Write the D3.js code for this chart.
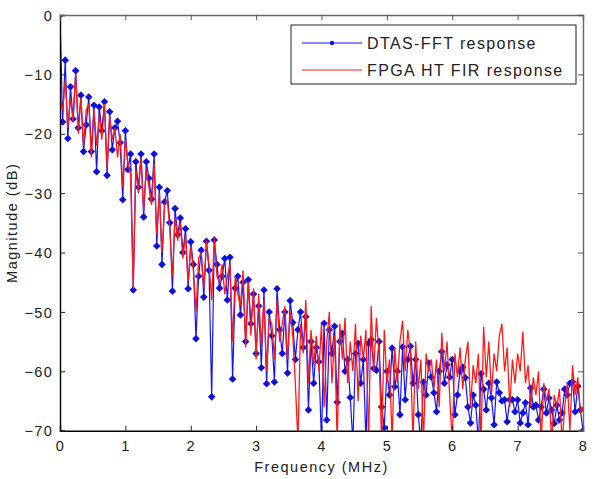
<!DOCTYPE html>
<html><head><meta charset="utf-8">
<script src="https://cdn.jsdelivr.net/npm/d3@7"></script>
<style>body{margin:0;background:#fff}svg{display:block}text{font-family:"Liberation Sans",Arial,sans-serif}</style>
</head><body>
<script>
const freqStep = 0.04;
const xTicks = [0,1,2,3,4,5,6,7,8];
const yTicks = [0,-10,-20,-30,-40,-50,-60,-70];
const seriesNames = ["DTAS-FFT response","FPGA HT FIR response"];
const dtasFFT = [
0,-18,-7.6,-20.8,-12.1,-17.5,-9.4,-19,-13.5,-23,
-18.5,-13.8,-23,-15.2,-26.4,-15.5,-19.5,-14.6,-27,-16.3,
-22.7,-19,-17.9,-21.5,-31.1,-19.5,-26,-23.4,-46.3,-24.7,
-29,-23.4,-34,-24.7,-27.5,-31,-23.4,-38.9,-29,-42,
-31.5,-29.6,-35,-46.5,-32.6,-37,-34.2,-40,-36,-46.1,
-38.2,-42,-54.5,-44,-39.6,-47.5,-38.1,-43,-64.3,-37.9,
-42,-46,-44,-41,-48,-40.8,-61.3,-46,-44,-50.5,
-45,-55,-44.6,-52,-47,-57,-49,-59.4,-46.3,-62.1,
-50,-54,-61.8,-46.1,-53,-57,-50,-60.3,-48.1,-51.8,
-58,-53,-50,-56,-50.8,-66.5,-55,-62,-56,-58.4,
-72,-51.9,-68.2,-53,-57,-52.4,-65.2,-55,-53.6,-60,
-58,-64.4,-72,-57,-55.3,-62,-58,-72,-55.3,-54.7,
-59.5,-59.8,-55,-66,-69.5,-60,-64,-56.1,-62.6,-60,
-67.3,-55.9,-64.8,-58,-55.8,-62,-58,-67.3,-72,-61.8,
-64,-58.6,-61,-63.6,-66.8,-60,-56.7,-62,-58.9,-61,
-58,-67.3,-64,-60,-59.3,-61.1,-66,-68.7,-64,-65.7,
-72,-60.4,-63,-66.5,-62,-64.5,-69,-61.8,-63.6,-65,
-64.8,-68.5,-64.8,-64.8,-66.8,-64.8,-68.7,-67,-65.3,-69,
-62.8,-66,-65.7,-68.2,-66,-63,-67,-64.5,-66.5,-68.8,
-65.7,-68.2,-67,-63,-64,-62,-61.8,-66.8,-62.5,-66.5,
-70
];
const fpgaFIR = [
-14,-16,-11,-19,-14,-18,-10,-20,-14,-22,
-16,-15,-24,-16,-22,-17,-21,-15,-26,-17,
-21,-19,-24,-20,-29,-21,-25,-27,-46,-26,
-30,-24,-33,-26,-29,-32,-25,-37,-30,-40,
-32,-31,-36,-44,-34,-38,-35,-41,-37,-45,
-39,-43,-50,-41,-40,-46,-38,-42,-48,-37.5,
-44,-45,-42,-47,-44,-42,-55,-44,-47,-49,
-43,-56,-45,-54,-46,-58,-47,-56,-48,-60,
-51,-52,-58,-48,-55,-52,-49,-58,-50,-54,
-62,-72,-52,-57,-48,-62,-53,-59,-54,-60,
-52,-66,-55,-50,-62,-54,-72,-52,-58,-51,
-62,-55,-60,-52,-65,-54,-58,-53,-72,-49,
-60,-51,-57,-72,-53,-62,-58,-72,-56,-62,
-55,-51.5,-60,-53,-57,-72,-55,-63,-58,-72,
-57,-60,-58,-63,-58,-66,-53.5,-60,-55,-64,
-72,-57,-61,-56,-63,-58,-55,-66,-59,-62,
-57,-72,-52.5,-61,-55,-64,-57,-60,-54,-52,
-60,-56,-66,-58,-62,-57,-60,-53.3,-62,-59,
-66,-61,-64,-60,-72,-62,-65,-63,-72,-64,
-66,-63,-72,-66,-62,-70,-59,-64,-61,-67,
-66
];

const W = 595, H = 479;
const m = {l:60, r:583, t:15, b:430.7};
const svg = d3.select("body").append("svg").attr("width",W).attr("height",H);
const x = d3.scaleLinear().domain([0,8]).range([m.l,m.r]);
const y = d3.scaleLinear().domain([-70,0]).range([m.b,m.t]);

svg.append("clipPath").attr("id","clip").append("rect")
  .attr("x",m.l).attr("y",m.t).attr("width",m.r-m.l).attr("height",m.b-m.t);

const blue = dtasFFT.map((v,i)=>[i*freqStep,v]);
const red = fpgaFIR.map((v,i)=>[i*freqStep,v]);
const line = d3.line().x(d=>x(d[0])).y(d=>y(d[1]));

const g = svg.append("g").attr("clip-path","url(#clip)");
g.append("path").datum(blue).attr("d",line).attr("fill","none").attr("stroke","#1414f0").attr("stroke-width",1.2);
const diamond = "M0,-3.8L3.8,0L0,3.8L-3.8,0Z";
g.selectAll("path.mk").data(blue).enter().append("path").attr("class","mk")
  .attr("d",diamond).attr("transform",d=>`translate(${x(d[0])},${y(d[1])})`)
  .attr("fill","#1010d8");
g.append("path").datum(red).attr("d",line).attr("fill","none").attr("stroke","#ff1a1a").attr("stroke-width",1.3);

// axes
const axB = svg.append("g").attr("transform",`translate(0,${m.b})`)
  .call(d3.axisBottom(x).tickValues(xTicks).tickSize(-5).tickPadding(10).tickFormat(d3.format("d")));
const axL = svg.append("g").attr("transform",`translate(${m.l},0)`)
  .call(d3.axisLeft(y).tickValues(yTicks).tickSize(-5).tickPadding(7).tickFormat(d3.format("d")));
const axT = svg.append("g").attr("transform",`translate(0,${m.t})`)
  .call(d3.axisTop(x).tickValues(xTicks).tickSize(-5).tickFormat(""));
const axR = svg.append("g").attr("transform",`translate(${m.r},0)`)
  .call(d3.axisRight(y).tickValues(yTicks).tickSize(-5).tickFormat(""));
[axB,axL].forEach(a=>{a.select(".domain").attr("stroke","#000").attr("stroke-width",1.4);
  a.selectAll(".tick line").attr("stroke","#222");
  a.selectAll("text").attr("font-size",14.5).attr("letter-spacing",1.3).attr("fill","#222")
   .attr("font-family","'Liberation Sans',Arial,sans-serif");});
[axT,axR].forEach(a=>{a.select(".domain").attr("stroke","#666").attr("stroke-width",1.4);
  a.selectAll(".tick line").attr("stroke","#555");});
axL.selectAll("text").attr("dy","0.35em");

svg.append("text").attr("x",(m.l+m.r)/2).attr("y",472).attr("text-anchor","middle")
  .attr("font-size",14.5).attr("letter-spacing",1.5).attr("fill","#222").text("Frequency (MHz)");
svg.append("text").attr("transform",`translate(17,${(m.t+m.b)/2}) rotate(-90)`).attr("text-anchor","middle")
  .attr("font-size",14.5).attr("letter-spacing",1.5).attr("fill","#222").text("Magnitude (dB)");

// legend
const lg = svg.append("g");
lg.append("rect").attr("x",291).attr("y",25).attr("width",285).attr("height",59)
  .attr("fill","#fff").attr("stroke","#222").attr("stroke-width",1);
const rows = [{n:seriesNames[0],c:"#1414f0",mk:true,y:43},{n:seriesNames[1],c:"#ff1a1a",mk:false,y:70}];
rows.forEach(r=>{
  lg.append("line").attr("x1",302).attr("x2",362).attr("y1",r.y).attr("y2",r.y).attr("stroke",r.c).attr("stroke-width",1.1);
  if(r.mk) lg.append("circle").attr("cx",332).attr("cy",r.y).attr("r",2.2).attr("fill",r.c);
  lg.append("text").attr("x",367).attr("y",r.y).attr("dy","0.36em").attr("font-size",16)
    .attr("letter-spacing",1.4).attr("fill","#222").text(r.n);
});
</script>
</body></html>
